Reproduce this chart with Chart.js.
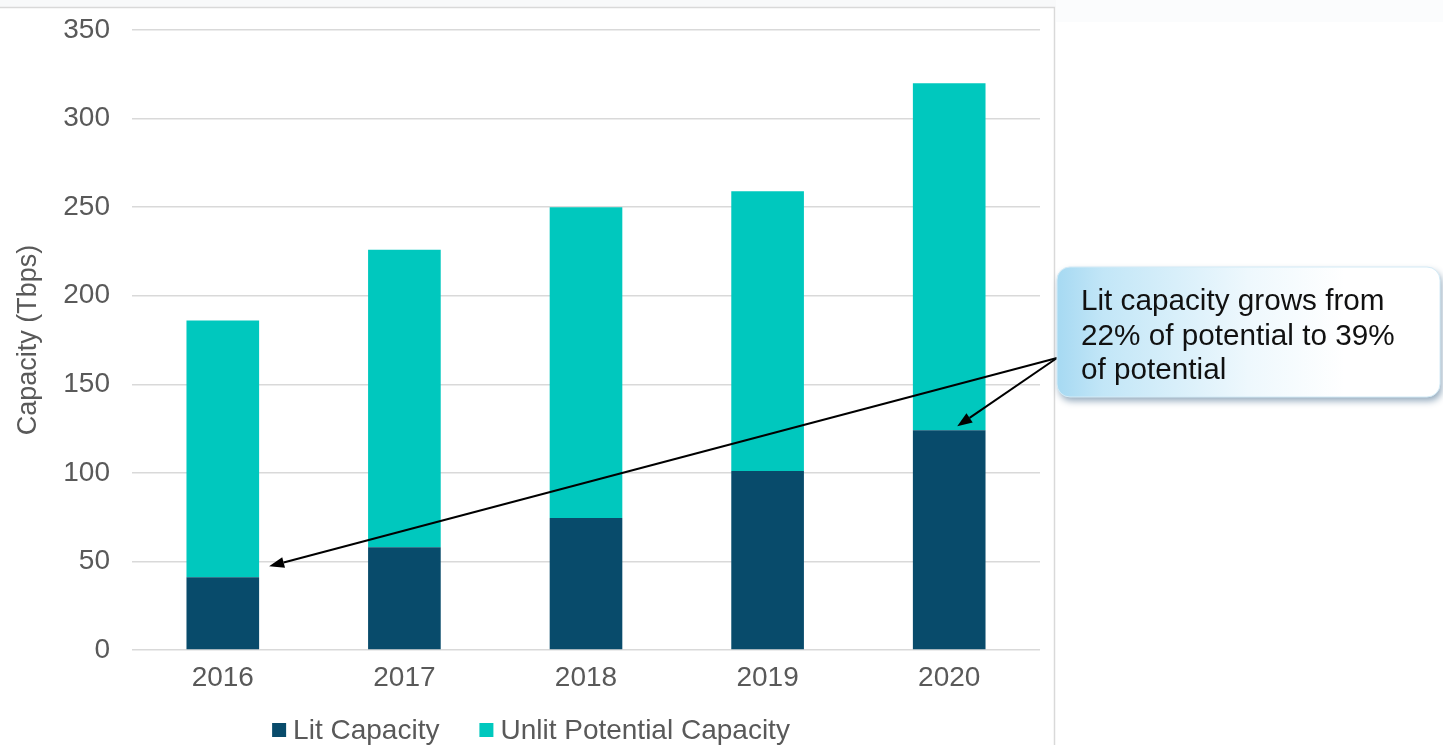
<!DOCTYPE html>
<html>
<head>
<meta charset="utf-8">
<script src="https://cdn.jsdelivr.net/npm/chart.js@4"></script>
<style>
  html, body { margin: 0; padding: 0; background: #fff; }
  #wrap { width: 1443px; height: 745px; position: relative; }
</style>
</head>
<body>
<div id="wrap"><canvas id="cap_chart" width="1443" height="745"></canvas></div>
<script>
var years = ['2016', '2017', '2018', '2019', '2020'];
var litCapacity = [41, 58, 74.5, 101, 124];
var unlitCapacity = [145, 168, 175.5, 158, 196];
var yTicks = [0, 50, 100, 150, 200, 250, 300, 350];
var noteLines = ['Lit capacity grows from', '22% of potential to 39%', 'of potential'];

var FONT = "'Liberation Sans', Arial, Helvetica, sans-serif";
var GRID = '#d9d9d9';
var TEXT = '#595959';

// outer frame of the chart object
var framePlugin = {
    id: 'frame',
    beforeDraw: function(chart) {
        var c = chart.ctx;
        c.save();
        c.fillStyle = '#ffffff';
        c.fillRect(0, 0, chart.width, chart.height);
        c.fillStyle = '#f8f9fa';
        c.fillRect(0, 0, chart.width, 7);
        c.fillStyle = '#fbfcfd';
        c.fillRect(1056, 0, chart.width - 1056, 22);
        c.strokeStyle = GRID;
        c.lineWidth = 1.5;
        c.beginPath();
        c.moveTo(0, 7.5);
        c.lineTo(1054.5, 7.5);
        c.lineTo(1054.5, chart.height);
        c.stroke();
        c.restore();
    }
};

// legend drawn by hand so the spacing stays tight (square, small gap, text)
var legendPlugin = {
    id: 'legendRow',
    afterDraw: function(chart) {
        var c = chart.ctx;
        var sets = chart.data.datasets;
        var box = 14, gap = 7, between = 40, cy = 730;
        c.save();
        c.font = '28px ' + FONT;
        c.textBaseline = 'middle';
        var total = 0;
        sets.forEach(function(ds, i) {
            total += box + gap + c.measureText(ds.label).width + (i ? between : 0);
        });
        var x = 531 - total / 2;
        sets.forEach(function(ds) {
            c.fillStyle = ds.backgroundColor;
            c.fillRect(x, cy - box / 2, box, box);
            x += box + gap;
            c.fillStyle = TEXT;
            c.fillText(ds.label, x, cy + 1);
            x += c.measureText(ds.label).width + between;
        });
        c.restore();
    }
};

function arrow(c, x0, y0, x1, y1) {
    var a = Math.atan2(y1 - y0, x1 - x0);
    var len = 15, half = 5.5;
    var bx = x1 - len * Math.cos(a), by = y1 - len * Math.sin(a);
    c.beginPath();
    c.moveTo(x0, y0);
    c.lineTo(bx, by);
    c.stroke();
    c.beginPath();
    c.moveTo(x1, y1);
    c.lineTo(bx + half * Math.sin(a), by - half * Math.cos(a));
    c.lineTo(bx - half * Math.sin(a), by + half * Math.cos(a));
    c.closePath();
    c.fill();
}

// note box on the right with two arrows pointing at the lit bars
var calloutPlugin = {
    id: 'callout',
    afterDraw: function(chart) {
        var c = chart.ctx;
        var y = chart.scales.y;
        var bars = chart.getDatasetMeta(0).data;
        var bx = 1057, by = 267, bw = 383, bh = 130, r = 13;

        var ox = bx, oy = by + 91;
        var first = bars[0], last = bars[bars.length - 1];
        c.save();
        c.strokeStyle = '#000';
        c.fillStyle = '#000';
        c.lineWidth = 2;
        arrow(c, ox, oy, first.x + first.width / 2 + 10, y.getPixelForValue(litCapacity[0]) - 11);
        arrow(c, ox, oy, last.x + 8, y.getPixelForValue(litCapacity[litCapacity.length - 1]) - 4);
        c.restore();

        c.save();
        c.beginPath();
        c.roundRect(bx, by, bw, bh, r);
        c.shadowColor = 'rgba(60, 100, 135, 0.55)';
        c.shadowBlur = 7;
        c.shadowOffsetX = 2;
        c.shadowOffsetY = 4;
        var g = c.createLinearGradient(bx, 0, bx + bw, 0);
        g.addColorStop(0, '#a6d9f2');
        g.addColorStop(0.12, '#c2e6f7');
        g.addColorStop(0.5, '#eef8fd');
        g.addColorStop(0.75, '#ffffff');
        g.addColorStop(1, '#ffffff');
        c.fillStyle = g;
        c.fill();
        c.shadowColor = 'transparent';
        c.strokeStyle = '#d4ebf6';
        c.lineWidth = 1;
        c.stroke();
        c.fillStyle = '#111';
        c.font = '29.7px ' + FONT;
        c.textBaseline = 'alphabetic';
        for (var i = 0; i < noteLines.length; i++) {
            c.fillText(noteLines[i], bx + 24, by + 43 + i * 34.5);
        }
        c.restore();
    }
};

var myChart = new Chart('cap_chart', {
    type: 'bar',
    data: {
        labels: years,
        datasets: [{
            label: 'Lit Capacity',
            data: litCapacity,
            backgroundColor: '#084b6b',
            barPercentage: 0.4,
            categoryPercentage: 1
        }, {
            label: 'Unlit Potential Capacity',
            data: unlitCapacity,
            backgroundColor: '#00c8be',
            barPercentage: 0.4,
            categoryPercentage: 1
        }]
    },
    options: {
        responsive: false,
        animation: false,
        devicePixelRatio: 1,
        layout: { padding: { left: 12, top: 30, right: 389, bottom: 0 } },
        plugins: {
            legend: { display: false },
            tooltip: { enabled: false }
        },
        scales: {
            x: {
                stacked: true,
                grid: { display: false, drawTicks: false },
                border: { display: false },
                ticks: { color: TEXT, font: { size: 28, family: FONT }, padding: 11 },
                afterFit: function(s) { s.height = 95; }
            },
            y: {
                stacked: true,
                min: 0,
                max: 350,
                afterBuildTicks: function(s) { s.ticks = yTicks.map(function(v) { return { value: v }; }); },
                grid: { color: GRID, lineWidth: 1.5, drawTicks: false },
                border: { display: false },
                ticks: { color: TEXT, font: { size: 28, family: FONT }, padding: 22 },
                title: {
                    display: true,
                    text: 'Capacity (Tbps)',
                    color: TEXT,
                    font: { size: 27, family: FONT },
                    padding: { top: 0, bottom: 0 }
                },
                afterFit: function(s) {
                    s.width = 120;
                    s.paddingTop = 0;
                    s.paddingBottom = 0;
                }
            },
            y2: {
                position: 'right',
                display: true,
                grid: { display: false },
                border: { display: false },
                ticks: { display: false },
                afterFit: function(s) { s.width = 14; s.paddingTop = 0; s.paddingBottom = 0; }
            }
        }
    },
    plugins: [framePlugin, legendPlugin, calloutPlugin]
});
</script>
</body>
</html>
